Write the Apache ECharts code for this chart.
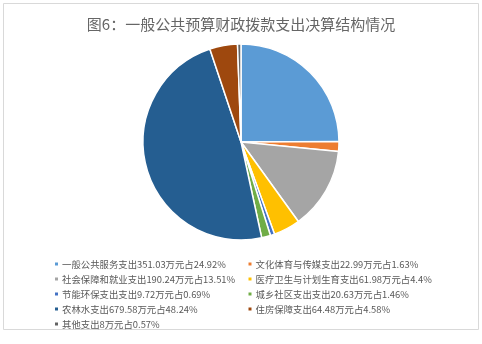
<!DOCTYPE html>
<html><head><meta charset="utf-8">
<script src="https://cdn.jsdelivr.net/npm/echarts@6/dist/echarts.min.js"></script>
<style>html,body{margin:0;padding:0;background:#fff}#c{width:482px;height:344px}</style>
</head><body><div id="c"></div>
<script>
const categories = ['一般公共服务支出','文化体育与传媒支出','社会保障和就业支出','医疗卫生与计划生育支出','节能环保支出支出','城乡社区支出支出','农林水支出','住房保障支出','其他支出'];
const values = [351.03, 22.99, 190.24, 61.98, 9.72, 20.63, 679.58, 64.48, 8];
const percents = ['24.92%','1.63%','13.51%','4.4%','0.69%','1.46%','48.24%','4.58%','0.57%'];
const colors = ['#5B9BD5','#ED7D31','#A5A5A5','#FFC000','#4472C4','#70AD47','#255E91','#9E480E','#636363'];
const title = '图6：一般公共预算财政拨款支出决算结构情况';

const names = categories.map((c,i)=>c + values[i] + '万元占' + percents[i]);
const leftNames = names.filter((n,i)=>i%2===0);
const rightNames = names.filter((n,i)=>i%2===1);
const legendText = {color:'#595959', fontSize:9.4, fontFamily:'Noto Sans CJK SC', lineHeight:12, padding:[0,0,0,-2]};

const chart = echarts.init(document.getElementById('c'));
chart.setOption({
  backgroundColor:'#fff',
  color: colors,
  title:{text:title, left:'center', top:12, textStyle:{color:'#666666', fontSize:15, fontWeight:'normal', fontFamily:'Noto Sans CJK SC'}},
  legend:[
    {data:leftNames, orient:'vertical', left:48, top:253, itemWidth:5, itemHeight:5, itemGap:3, icon:'rect', textStyle:legendText, selectedMode:false},
    {data:rightNames, orient:'vertical', left:241.5, top:253, itemWidth:5, itemHeight:5, itemGap:3, icon:'rect', textStyle:legendText, selectedMode:false}
  ],
  graphic:[{type:'rect', shape:{x:3.5,y:3.5,width:475,height:326}, style:{fill:'none', stroke:'#d9d9d9', lineWidth:1}, silent:true}],
  series:[{
    type:'pie', center:[241,142], radius:98, startAngle:90, clockwise:true,
    label:{show:false}, labelLine:{show:false}, emphasis:{disabled:true},
    itemStyle:{borderColor:'#fff', borderWidth:1.5},
    data: names.map((n,i)=>({name:n, value:values[i]}))
  }]
});
</script></body></html>
